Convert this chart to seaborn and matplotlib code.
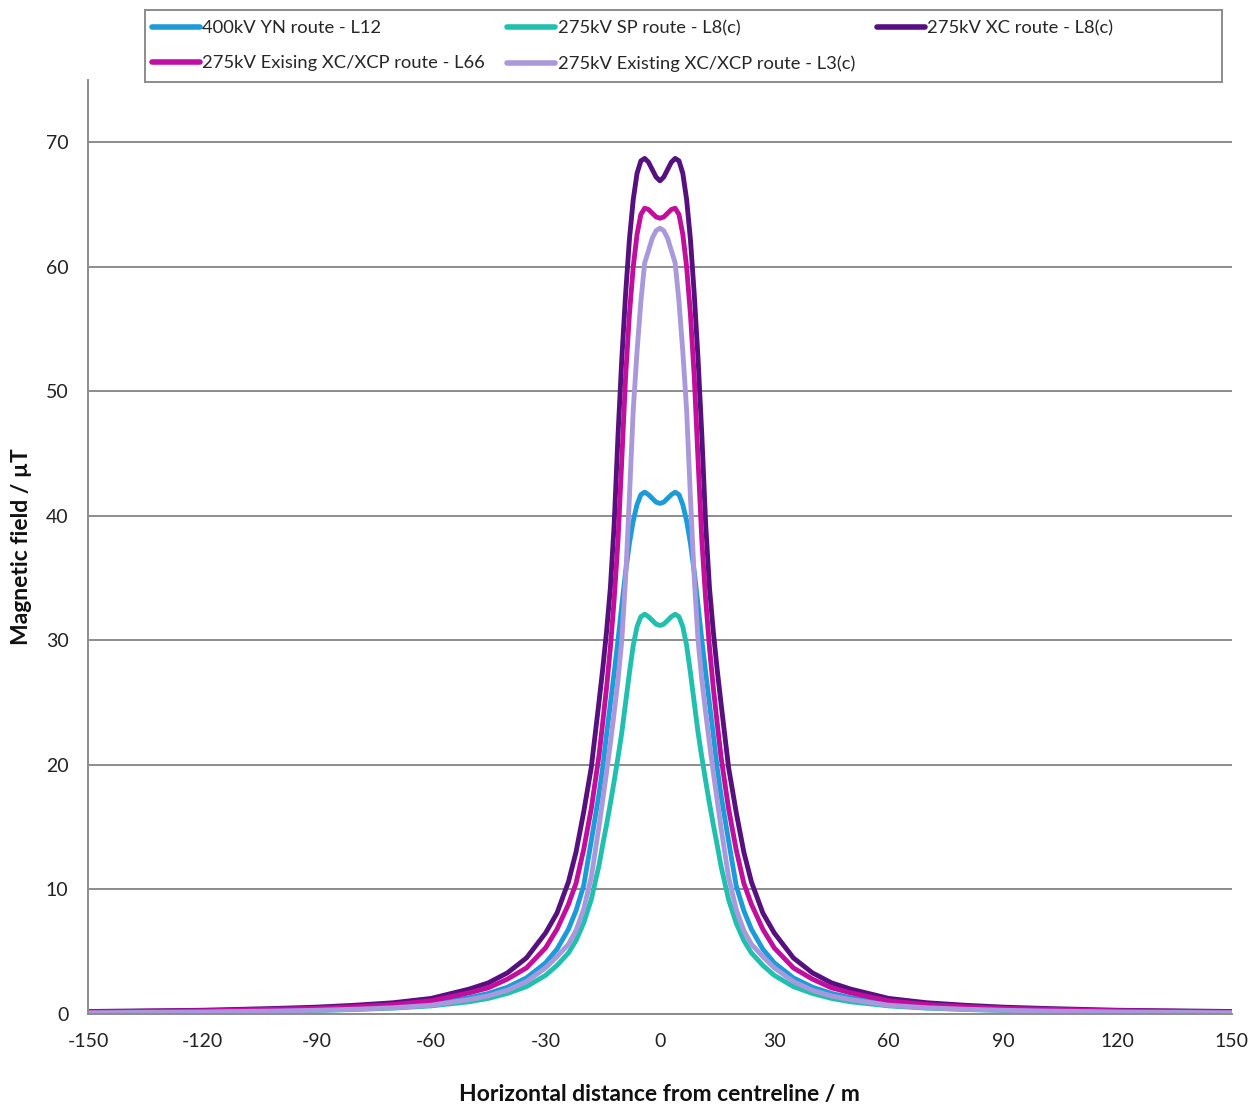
import numpy as np
import pandas as pd
import matplotlib
matplotlib.use("Agg")
import matplotlib.pyplot as plt
from matplotlib.patches import Rectangle
import seaborn as sns

# horizontal distance from centreline (m)
distance = [-150, -120, -100, -90, -80, -70, -60, -50, -45, -40, -35, -30, -27, -24, -22, -20, -18,
            -16, -15, -14, -13, -12, -11, -10, -9, -8, -7, -6, -5, -4, -3, -2, -1,
            0, 1, 2, 3, 4, 5, 6, 7, 8, 9, 10, 11, 12, 13, 14, 15, 16,
            18, 20, 22, 24, 27, 30, 35, 40, 45, 50, 60, 70, 80, 90, 100, 120, 150]

# magnetic field (uT)
yn_l12 = [0.13, 0.2, 0.29, 0.36, 0.46, 0.6, 0.85, 1.3, 1.65, 2.15, 2.9, 4.1, 5.2, 6.8, 8.3, 10.3, 13.9,
          17.6, 19.8, 22.4, 24.9, 27.4, 30.0, 32.8, 35.5, 37.8, 39.6, 40.9, 41.7, 41.9, 41.7, 41.4, 41.1,
          41.0, 41.1, 41.4, 41.7, 41.9, 41.7, 40.9, 39.6, 37.8, 35.5, 32.8, 30.0, 27.4, 24.9, 22.4, 19.8, 17.6,
          13.9, 10.3, 8.3, 6.8, 5.2, 4.1, 2.9, 2.15, 1.65, 1.3, 0.85, 0.6, 0.46, 0.36, 0.29, 0.2, 0.13]

sp_l8 = [0.1, 0.15, 0.22, 0.28, 0.36, 0.47, 0.65, 0.98, 1.25, 1.65, 2.2, 3.1, 3.9, 4.9, 5.9, 7.3, 9.2,
         11.9, 13.6, 15.2, 16.9, 18.7, 20.6, 22.6, 25.0, 27.4, 29.6, 31.1, 31.9, 32.1, 31.9, 31.6, 31.3,
         31.2, 31.3, 31.6, 31.9, 32.1, 31.9, 31.1, 29.6, 27.4, 25.0, 22.6, 20.6, 18.7, 16.9, 15.2, 13.6, 11.9,
         9.2, 7.3, 5.9, 4.9, 3.9, 3.1, 2.2, 1.65, 1.25, 0.98, 0.65, 0.47, 0.36, 0.28, 0.22, 0.15, 0.1]

xc_l8 = [0.2, 0.3, 0.45, 0.55, 0.7, 0.9, 1.25, 2.0, 2.5, 3.3, 4.5, 6.5, 8.1, 10.6, 13.0, 16.2, 19.8,
         25.0, 27.7, 30.7, 34.2, 39.3, 46.4, 52.6, 57.8, 62.2, 65.4, 67.5, 68.5, 68.7, 68.4, 67.8, 67.2,
         66.9, 67.2, 67.8, 68.4, 68.7, 68.5, 67.5, 65.4, 62.2, 57.8, 52.6, 46.4, 39.3, 34.2, 30.7, 27.7, 25.0,
         19.8, 16.2, 13.0, 10.6, 8.1, 6.5, 4.5, 3.3, 2.5, 2.0, 1.25, 0.9, 0.7, 0.55, 0.45, 0.3, 0.2]

xcp_l66 = [0.17, 0.26, 0.38, 0.46, 0.58, 0.75, 1.05, 1.7, 2.1, 2.8, 3.7, 5.3, 6.8, 8.8, 10.5, 13.2, 16.5,
           20.7, 23.4, 26.2, 29.4, 33.3, 38.0, 44.5, 51.2, 56.2, 60.0, 62.6, 64.2, 64.7, 64.6, 64.3, 64.0,
           63.9, 64.0, 64.3, 64.6, 64.7, 64.2, 62.6, 60.0, 56.2, 51.2, 44.5, 38.0, 33.3, 29.4, 26.2, 23.4, 20.7,
           16.5, 13.2, 10.5, 8.8, 6.8, 5.3, 3.7, 2.8, 2.1, 1.7, 1.05, 0.75, 0.58, 0.46, 0.38, 0.26, 0.17]

xcp_l3 = [0.1, 0.16, 0.24, 0.3, 0.38, 0.5, 0.7, 1.15, 1.45, 1.9, 2.6, 3.7, 4.6, 5.6, 6.7, 8.4, 11.0,
          15.0, 17.2, 19.4, 21.7, 24.2, 26.8, 30.0, 35.0, 41.5, 48.5, 53.2, 57.2, 60.3, 61.3, 62.3, 62.9,
          63.1, 62.9, 62.3, 61.3, 60.3, 57.2, 53.2, 48.5, 41.5, 35.0, 30.0, 26.8, 24.2, 21.7, 19.4, 17.2, 15.0,
          11.0, 8.4, 6.7, 5.6, 4.6, 3.7, 2.6, 1.9, 1.45, 1.15, 0.7, 0.5, 0.38, 0.3, 0.24, 0.16, 0.1]

routes = ["400kV YN route - L12", "275kV SP route - L8(c)", "275kV XC route - L8(c)",
          "275kV Exising XC/XCP route - L66", "275kV Existing XC/XCP route - L3(c)"]
colors = ["#1C9BD9", "#20BFAE", "#57117F", "#C20E9D", "#AA98DC"]

frames = []
for name, vals in zip(routes, [yn_l12, sp_l8, xc_l8, xcp_l66, xcp_l3]):
    frames.append(pd.DataFrame({"distance": distance, "field": vals, "route": name}))
df = pd.concat(frames, ignore_index=True)

sns.set_theme(style="white")
plt.rcParams["font.family"] = ["Lato", "DejaVu Sans"]

fig = plt.figure(figsize=(12.6, 11.06), dpi=100)
ax = fig.add_axes([0.0698, 0.0832, 0.9079, 0.8445])

sns.lineplot(data=df, x="distance", y="field", hue="route", hue_order=routes,
             palette=dict(zip(routes, colors)), linewidth=3.5, sort=False,
             estimator=None, ax=ax)

ax.set_xlim(-150, 150)
ax.set_ylim(0, 75)
ax.set_xticks(np.arange(-150, 151, 15))
ax.set_xticklabels([str(v) if v % 30 == 0 else "" for v in range(-150, 151, 15)])
ax.set_yticks(range(0, 71, 10))
ax.yaxis.grid(True, color="#8c8c8c", linewidth=1.4)
ax.set_axisbelow(True)

for side in ["top", "right"]:
    ax.spines[side].set_visible(False)
for side in ["left", "bottom"]:
    ax.spines[side].set_color("#8c8c8c")
    ax.spines[side].set_linewidth(1.4)

ax.tick_params(axis="both", direction="out", length=6, width=1.3, color="#8c8c8c",
               labelsize=14, labelcolor="#222222", pad=8)

ax.set_xlabel("Horizontal distance from centreline / m", fontsize=16.5, fontweight="bold",
              labelpad=24, color="#111111")
ax.set_ylabel("Magnetic field / \u00b5T", fontsize=16.5, fontweight="bold",
              labelpad=10, color="#111111")

# legend box drawn separately so it keeps the full width of the original
fig.patches.append(Rectangle((145 / 1260, 1 - 82 / 1106), 1077 / 1260, 72 / 1106,
                             transform=fig.transFigure, facecolor="none",
                             edgecolor="#8c8c8c", linewidth=1.4))

handles, labels = ax.get_legend_handles_labels()
lookup = dict(zip(labels, handles))
order = [routes[0], routes[3], routes[1], routes[4], routes[2]]
leg = ax.legend([lookup[k] for k in order], order, loc="center left",
                bbox_to_anchor=(152 / 1260, 1 - 46 / 1106), bbox_transform=fig.transFigure,
                ncol=3, fontsize=13.2, handlelength=2.6, handletextpad=0.15,
                labelspacing=1.05, columnspacing=1.2, borderpad=0, borderaxespad=0,
                frameon=False)
for line in leg.get_lines():
    line.set_linewidth(4)

fig.savefig("out.png", dpi=100)
